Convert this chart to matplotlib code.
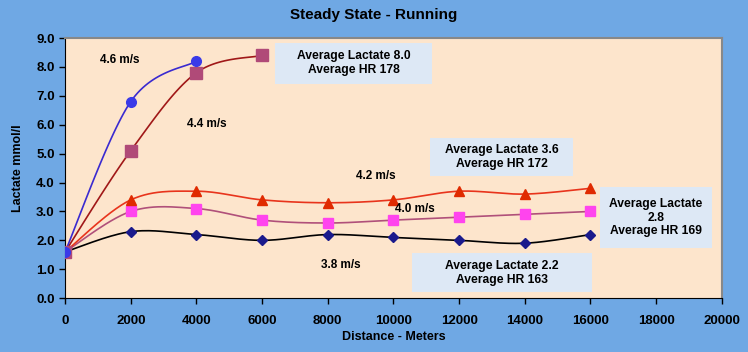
import numpy as np
import matplotlib.pyplot as plt
from matplotlib.patches import Rectangle

plt.rcParams['font.family'] = ['Liberation Sans', 'DejaVu Sans']
plt.rcParams['font.weight'] = 'bold'

# data
dist = [0, 2000, 4000, 6000, 8000, 10000, 12000, 14000, 16000]
lac_46 = [1.6, 6.8, 8.2]
lac_44 = [1.6, 5.1, 7.8, 8.4]
lac_42 = [1.6, 3.4, 3.7, 3.4, 3.3, 3.4, 3.7, 3.6, 3.8]
lac_40 = [1.6, 3.0, 3.1, 2.7, 2.6, 2.7, 2.8, 2.9, 3.0]
lac_38 = [1.6, 2.3, 2.2, 2.0, 2.2, 2.1, 2.0, 1.9, 2.2]

speeds = ['4.6 m/s', '4.4 m/s', '4.2 m/s', '4.0 m/s', '3.8 m/s']
notes = ['Average Lactate 8.0\nAverage HR 178',
         'Average Lactate 3.6\nAverage HR 172',
         'Average Lactate\n2.8\nAverage HR 169',
         'Average Lactate 2.2\nAverage HR 163']


def smooth(x, y, n=30):
    # catmull-rom style curve through the points (like excel smoothed lines)
    x = np.asarray(x, float)
    y = np.asarray(y, float)
    px = np.concatenate([[x[0]], x, [x[-1]]])
    py = np.concatenate([[y[0]], y, [y[-1]]])
    xs, ys = [], []
    t = np.linspace(0, 1, n)
    for i in range(1, len(px) - 2):
        p0, p1, p2, p3 = (np.array([px[j], py[j]]) for j in range(i - 1, i + 3))
        c1 = p1 + (p2 - p0) / 6
        c2 = p2 - (p3 - p1) / 6
        pts = ((1 - t) ** 3)[:, None] * p1 + (3 * (1 - t) ** 2 * t)[:, None] * c1 \
            + (3 * (1 - t) * t ** 2)[:, None] * c2 + (t ** 3)[:, None] * p2
        xs.extend(pts[:, 0])
        ys.extend(pts[:, 1])
    return xs, ys


fig = plt.figure(figsize=(7.48, 3.52), dpi=100, facecolor='#6fa8e4')
ax = fig.add_axes([0.087, 0.153, 0.878, 0.739])
ax.set_facecolor('#fde5cc')

series = [
    (lac_38, '#000000', 'D', '#1a1a8c', 5),
    (lac_40, '#b0507a', 's', '#ff44ee', 7),
    (lac_42, '#e8341c', '^', '#e02a00', 7),
    (lac_44, '#a01818', 's', '#b04a78', 8),
    (lac_46, '#3a2ad0', 'o', '#3a3ae8', 7),
]
for ys, lc, mk, mc, ms in series:
    xs = dist[:len(ys)]
    sx, sy = smooth(xs, ys)
    ax.plot(sx, sy, color=lc, lw=1.2, zorder=2)
    ax.plot(xs, ys, ls='none', marker=mk, color=mc, ms=ms, zorder=3)

ax.set_xlim(0, 20000)
ax.set_ylim(0, 9)
ax.set_xticks(range(0, 20001, 2000))
ax.set_yticks(np.arange(0, 9.1, 1))
ax.set_yticklabels(['%.1f' % v for v in np.arange(0, 9.1, 1)])
ax.tick_params(direction='out', length=4, labelsize=9.5, width=1)
ax.tick_params(axis='x', pad=8)
for s in ['top', 'right']:
    ax.spines[s].set_color('#888888')
    ax.spines[s].set_linewidth(1.5)
ax.spines['left'].set_color('black')
ax.spines['bottom'].set_color('black')

ax.set_xlabel('Distance - Meters', fontsize=9, fontweight='bold', labelpad=3)
ax.set_ylabel('Lactate mmol/l', fontsize=9, fontweight='bold', labelpad=9)
fig.text(0.5, 0.958, 'Steady State - Running', ha='center', va='center',
         fontsize=11, fontweight='bold')

# annotation boxes (axes fraction: x0, y0, w, h)
boxes = [(0.3196, 0.825, 0.239, 0.157),
         (0.5555, 0.469, 0.218, 0.146),
         (0.814, 0.192, 0.171, 0.235),
         (0.528, 0.023, 0.275, 0.150)]
for (bx, by, bw, bh), s in zip(boxes, notes):
    ax.add_patch(Rectangle((bx, by), bw, bh, transform=ax.transAxes,
                           facecolor='#dde8f5', edgecolor='none', zorder=4))
    ax.text(bx + bw / 2, by + bh / 2, s, transform=ax.transAxes, ha='center',
            va='center', fontsize=8.7, linespacing=1.2, zorder=5)

label_pos = [(1670, 8.24), (4320, 6.02), (9470, 4.22), (10650, 3.08), (8400, 1.14)]
for (x, y), s in zip(label_pos, speeds):
    ax.text(x, y, s, ha='center', va='center', fontsize=8.5)

fig.savefig('out.png', dpi=100, facecolor=fig.get_facecolor())
